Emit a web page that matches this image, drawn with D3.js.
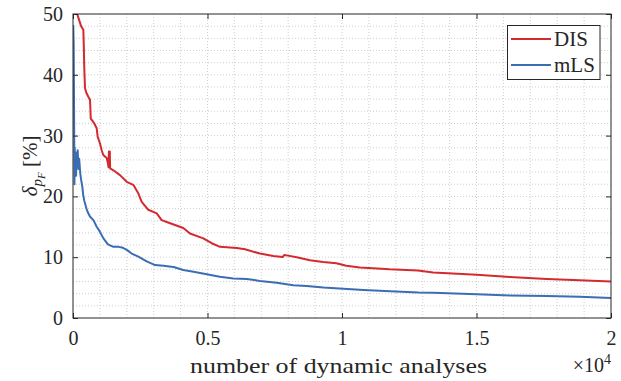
<!DOCTYPE html>
<html>
<head>
<meta charset="utf-8">
<script src="https://cdn.jsdelivr.net/npm/d3@7"></script>
<style>
  body { margin: 0; background: #fff; }
  svg text { font-family: 'Liberation Serif' !important; }
</style>
</head>
<body>
<div id="chart"></div>
<script>
// DIS curve: [number of analyses, delta in %]
var disData = [
  [110, 50.6], [200, 49.4], [300, 48.0], [384, 47.4], [400, 45.0], [420, 41.0],
  [446, 37.8], [500, 37.0], [569, 36.4], [632, 35.9], [660, 32.8], [792, 32.0],
  [881, 31.2], [918, 29.8], [1004, 28.7], [1067, 27.6], [1126, 26.8], [1252, 26.3],
  [1300, 25.4], [1318, 24.8], [1335, 27.4], [1368, 27.4], [1380, 24.6], [1500, 24.3],
  [1747, 23.5], [1996, 22.4], [2241, 21.9], [2427, 20.5], [2554, 19.1], [2799, 17.8],
  [3111, 17.2], [3297, 16.1], [3483, 15.8], [3791, 15.3], [4100, 14.8], [4349, 13.9],
  [4843, 13.1], [5156, 12.3], [5464, 11.7], [6085, 11.5], [6393, 11.3], [6951, 10.6],
  [7446, 10.2], [7800, 10.05], [7850, 10.35], [7944, 10.3], [8315, 10.0], [8810, 9.5],
  [9300, 9.2], [9790, 9.0], [10160, 8.6], [10660, 8.3], [11150, 8.2], [11770, 8.0],
  [12820, 7.8], [13390, 7.5], [15010, 7.1], [16240, 6.75], [17610, 6.4], [18840, 6.2],
  [20000, 6.0]
];

// mLS curve
var mlsData = [
  [10, 48.2], [25, 45.0], [35, 38.0], [45, 30.0], [55, 22.0], [65, 28.0],
  [80, 24.5], [100, 26.5], [115, 23.4], [135, 27.2], [150, 25.5], [175, 27.6],
  [200, 24.5], [230, 26.2], [270, 23.8], [300, 22.8], [350, 21.5], [380, 20.2],
  [420, 19.3], [500, 18.0], [560, 17.3], [630, 16.7], [760, 16.1], [880, 15.0],
  [1000, 14.2], [1130, 13.1], [1300, 12.1], [1500, 11.7], [1690, 11.7], [1820, 11.6],
  [2000, 11.2], [2180, 10.6], [2430, 10.1], [2740, 9.3], [3050, 8.7], [3360, 8.6],
  [3740, 8.4], [4100, 7.9], [4480, 7.6], [4970, 7.2], [5460, 6.8], [5960, 6.5],
  [6460, 6.4], [6950, 6.1], [7570, 5.8], [8190, 5.4], [8690, 5.25], [9310, 5.0],
  [10050, 4.8], [10800, 4.6], [11800, 4.4], [12840, 4.2], [13400, 4.15],
  [15010, 3.9], [16240, 3.7], [17610, 3.6], [18840, 3.5], [20000, 3.3]
];

var xTicks = [0, 5000, 10000, 15000, 20000];
var xTickLabels = ["0", "0.5", "1", "1.5", "2"];
var yTicks = [0, 10, 20, 30, 40, 50];
var seriesNames = ["DIS", "mLS"];
var seriesColors = ["#d42a2f", "#3b6db5"];

var FONT = "'Liberation Serif'";
var textColor = "#262626";
var W = 621, H = 381;
var margin = {top: 14, left: 73, bottom: 63, right: 10},
    width = W - margin.left - margin.right,
    height = H - margin.top - margin.bottom;

var svg = d3.select("#chart").append("svg")
  .attr("width", W).attr("height", H)
  .attr("font-family", "Liberation Serif");

var g = svg.append("g")
  .attr("transform", "translate(" + margin.left + "," + margin.top + ")");

var x = d3.scaleLinear().domain([0, 20000]).range([0, width]);
var y = d3.scaleLinear().domain([0, 50]).range([height, 0]);

// grid (major + minor, all dotted)
var gridColor = "#cfcfcf";
g.append("g").selectAll("line")
  .data(d3.range(1000, 20000, 1000))
  .enter().append("line")
  .attr("x1", d => x(d)).attr("x2", d => x(d))
  .attr("y1", 0).attr("y2", height)
  .attr("stroke", gridColor).attr("stroke-width", 1)
  .attr("stroke-dasharray", "1,2");
g.append("g").selectAll("line")
  .data(d3.range(2, 50, 2))
  .enter().append("line")
  .attr("y1", d => y(d)).attr("y2", d => y(d))
  .attr("x1", 0).attr("x2", width)
  .attr("stroke", gridColor).attr("stroke-width", 1)
  .attr("stroke-dasharray", "1,2");

// clip
svg.append("defs").append("clipPath").attr("id", "clip")
  .append("rect").attr("width", width).attr("height", height);

var line = d3.line()
  .x(d => x(d[0]))
  .y(d => y(d[1]));

var plot = g.append("g").attr("clip-path", "url(#clip)");
[disData, mlsData].forEach(function(data, i) {
  plot.append("path")
    .datum(data)
    .attr("d", line)
    .attr("fill", "none")
    .attr("stroke", seriesColors[i])
    .attr("stroke-width", 2)
    .attr("stroke-linejoin", "round");
});

// axes (MATLAB style: ticks inside, mirrored)
var axisColor = "#262626";
var tickLen = 5;
function styleAxis(sel) {
  sel.attr("font-family", "Liberation Serif").attr("font-size", 20);
  sel.select(".domain").remove();
  sel.selectAll(".tick line").attr("stroke", axisColor);
  sel.selectAll(".tick text")
    .attr("fill", textColor)
    .style("font-family", FONT)
    .style("font-size", "20px");
}

g.append("g")
  .attr("transform", "translate(0," + height + ")")
  .call(d3.axisBottom(x).tickValues(xTicks).tickFormat((d, i) => xTickLabels[i])
    .tickSizeInner(-tickLen).tickSizeOuter(0).tickPadding(13))
  .call(styleAxis);
g.append("g")
  .call(d3.axisTop(x).tickValues(xTicks).tickFormat("")
    .tickSizeInner(-tickLen).tickSizeOuter(0))
  .call(styleAxis);
g.append("g")
  .call(d3.axisLeft(y).tickValues(yTicks)
    .tickSizeInner(-tickLen).tickSizeOuter(0).tickPadding(10))
  .call(styleAxis);
g.append("g")
  .attr("transform", "translate(" + width + ",0)")
  .call(d3.axisRight(y).tickValues(yTicks).tickFormat("")
    .tickSizeInner(-tickLen).tickSizeOuter(0))
  .call(styleAxis);

g.append("rect")
  .attr("width", width).attr("height", height)
  .attr("fill", "none").attr("stroke", axisColor).attr("stroke-width", 1);

// x label
svg.append("text")
  .attr("x", 190).attr("y", 373)
  .attr("fill", textColor)
  .attr("textLength", 297)
  .attr("lengthAdjust", "spacingAndGlyphs")
  .style("font-family", FONT)
  .style("font-size", "21px")
  .text("number of dynamic analyses");

// exponent
var expo = svg.append("text")
  .attr("x", margin.left + width).attr("y", 372)
  .attr("text-anchor", "end")
  .attr("fill", textColor)
  .style("font-family", FONT)
  .style("font-size", "20px");
expo.append("tspan").text("\u00d710");
expo.append("tspan").attr("dy", -8).style("font-size", "14px").text("4");

// y label
var yl = svg.append("text")
  .attr("transform", "translate(37," + (margin.top + height / 2) + ") rotate(-90)")
  .attr("text-anchor", "middle")
  .attr("fill", textColor)
  .style("font-family", FONT)
  .style("font-size", "21px");
yl.append("tspan").style("font-style", "italic").text("\u03b4");
yl.append("tspan").attr("dy", 5).style("font-style", "italic").style("font-size", "15px").text("p");
yl.append("tspan").attr("dy", 3).style("font-style", "italic").style("font-size", "11px").text("F");
yl.append("tspan").attr("dy", -8).text(" [%]");

// legend
var leg = svg.append("g");
leg.append("rect")
  .attr("x", 507.5).attr("y", 25.5).attr("width", 92.5).attr("height", 54)
  .attr("fill", "#fff").attr("stroke", axisColor).attr("stroke-width", 1);
seriesNames.forEach(function(name, i) {
  var yy = 39 + i * 26;
  leg.append("line")
    .attr("x1", 511).attr("x2", 551).attr("y1", yy).attr("y2", yy)
    .attr("stroke", seriesColors[i]).attr("stroke-width", 2);
  leg.append("text")
    .attr("x", 554).attr("y", yy + 7)
    .attr("fill", textColor)
    .style("font-family", FONT)
    .style("font-size", "21px")
    .text(name);
});
</script>
</body>
</html>
